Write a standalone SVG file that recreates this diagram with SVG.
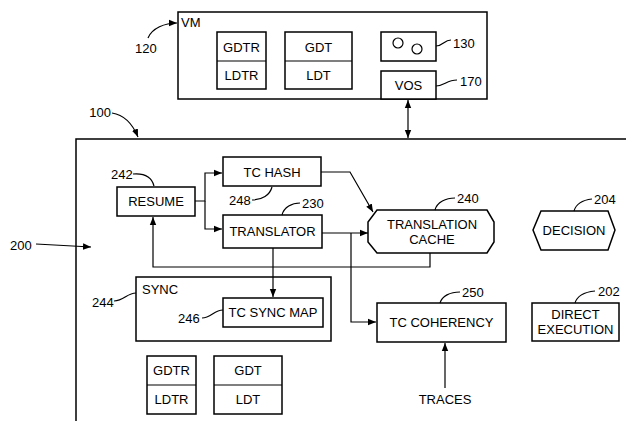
<svg xmlns="http://www.w3.org/2000/svg" width="626" height="421" viewBox="0 0 626 421">
<style>
.b{fill:#fff;stroke:#000;stroke-width:1.5}
.l{fill:none;stroke:#000;stroke-width:1.2}
.t{font-family:"Liberation Sans",Arial,sans-serif;font-size:13px;fill:#000;text-anchor:middle}
.n{font-family:"Liberation Sans",Arial,sans-serif;font-size:13px;fill:#000}
</style>
<defs>
<marker id="a" viewBox="0 0 10 10" refX="10" refY="5" markerWidth="8" markerHeight="8" markerUnits="userSpaceOnUse" orient="auto-start-reverse"><path d="M0,1 L10,5 L0,9 z" fill="#000"/></marker>
</defs>
<rect width="626" height="421" fill="#fff"/>
<g id="host100">
<path d="M76,421 V139 H626" fill="none" stroke="#000" stroke-width="1.5"/>
<text class="n" x="111" y="117" text-anchor="end">100</text>
<text class="n" x="10" y="250">200</text>
</g>
<g id="vm">
<rect class="b" x="178" y="12" width="309" height="87"/>
<text class="n" x="181" y="27">VM</text>
<text class="n" x="135" y="53">120</text>
</g>
<g id="vm-gdtr">
<rect class="b" x="217" y="32" width="49" height="57"/>
<line class="l" x1="217" y1="61" x2="266" y2="61"/>
<text class="t" x="241.5" y="52">GDTR</text>
<text class="t" x="241.5" y="80">LDTR</text>
</g>
<g id="vm-gdt">
<rect class="b" x="285" y="32" width="67" height="57"/>
<line class="l" x1="285" y1="61" x2="352" y2="61"/>
<text class="t" x="318.5" y="52">GDT</text>
<text class="t" x="318.5" y="80">LDT</text>
</g>
<g id="n130">
<rect class="b" x="381" y="32" width="55" height="29"/>
<circle cx="398" cy="43" r="5" fill="none" stroke="#000" stroke-width="1.2"/>
<circle cx="417" cy="49" r="5" fill="none" stroke="#000" stroke-width="1.2"/>
<path class="l" d="M436,46 C443,46 444,40 451,40"/>
<text class="n" x="453" y="48">130</text>
</g>
<g id="vos">
<rect class="b" x="381" y="71" width="55" height="28"/>
<text class="t" x="408.5" y="90">VOS</text>
<path class="l" d="M436,86 C444,86 447,80 457,80"/>
<text class="n" x="460" y="86">170</text>
</g>
<g id="resume">
<rect class="b" x="117" y="187" width="78" height="29"/>
<text class="t" x="156" y="206">RESUME</text>
<path class="l" d="M133,174 C145,173 152,178 154,186"/>
<text class="n" x="111" y="179">242</text>
</g>
<g id="tchash">
<rect class="b" x="223" y="157" width="98" height="29"/>
<text class="t" x="272" y="177">TC HASH</text>
<path class="l" d="M252,200 C262,200 270,195 272,187"/>
<text class="n" x="229" y="205">248</text>
</g>
<g id="translator">
<rect class="b" x="223" y="215" width="99" height="33"/>
<text class="t" x="272.5" y="236">TRANSLATOR</text>
<path class="l" d="M282,215 C284,207 292,203 300,203"/>
<text class="n" x="302" y="208">230</text>
</g>
<g id="cache">
<polygon class="b" points="377,210 487,210 494,222 494,242 487,253 377,253 368,242 368,222"/>
<text class="t" x="432" y="229">TRANSLATION</text>
<text class="t" x="432" y="244">CACHE</text>
<path class="l" d="M435,210 C437,202 446,198 455,198"/>
<text class="n" x="457" y="203">240</text>
</g>
<g id="decision">
<polygon class="b" points="541,211 608,211 615,230 608,250 541,250 533,230"/>
<text class="t" x="574" y="235">DECISION</text>
<path class="l" d="M574,211 C576,204 583,200 592,199"/>
<text class="n" x="594" y="204">204</text>
</g>
<g id="sync">
<rect class="b" x="136" y="277" width="195" height="64"/>
<text class="n" x="142" y="294">SYNC</text>
<path class="l" d="M114,301 C124,301 127,293 136,293"/>
<text class="n" x="92" y="307">244</text>
</g>
<g id="tcsyncmap">
<rect class="b" x="223" y="298" width="100" height="29"/>
<text class="t" x="273" y="317">TC SYNC MAP</text>
<path class="l" d="M202,318 C211,318 214,310 223,310"/>
<text class="n" x="178" y="323">246</text>
</g>
<g id="tccoherency">
<rect class="b" x="377" y="303" width="129" height="39"/>
<text class="t" x="441.5" y="327">TC COHERENCY</text>
<path class="l" d="M440,303 C442,296 450,292 460,292"/>
<text class="n" x="462" y="297">250</text>
</g>
<g id="direct">
<rect class="b" x="532" y="303" width="87" height="38"/>
<text class="t" x="575.5" y="319">DIRECT</text>
<text class="t" x="575.5" y="334">EXECUTION</text>
<path class="l" d="M575,303 C577,296 585,292 595,291"/>
<text class="n" x="598" y="296">202</text>
</g>
<g id="gdtr2">
<rect class="b" x="147" y="356" width="49" height="58"/>
<line class="l" x1="147" y1="385" x2="196" y2="385"/>
<text class="t" x="171.5" y="375">GDTR</text>
<text class="t" x="171.5" y="404">LDTR</text>
</g>
<g id="gdt2">
<rect class="b" x="214" y="356" width="68" height="58"/>
<line class="l" x1="214" y1="385" x2="282" y2="385"/>
<text class="t" x="248" y="375">GDT</text>
<text class="t" x="248" y="404">LDT</text>
</g>
<g id="traces">
<text class="t" x="445" y="404">TRACES</text>
</g>
<g id="connectors">
<path class="l" d="M408,100 V138" marker-start="url(#a)" marker-end="url(#a)"/>
<path class="l" d="M148,38 C152,28 165,23 177,23" marker-end="url(#a)"/>
<path class="l" d="M112,113 C125,115 133,125 138,137" marker-end="url(#a)"/>
<path class="l" d="M36,244 L91,247" marker-end="url(#a)"/>
<path class="l" d="M195,201 H205 V173 H222" marker-end="url(#a)"/>
<path class="l" d="M205,201 V229 H222" marker-end="url(#a)"/>
<path class="l" d="M321,172 H350 L373,212" marker-end="url(#a)"/>
<path class="l" d="M322,233 H368" marker-end="url(#a)"/>
<path class="l" d="M273,248 V297" marker-end="url(#a)"/>
<path class="l" d="M351,233 V322 H376" marker-end="url(#a)"/>
<path class="l" d="M430,253 V267 H153 V217" marker-end="url(#a)"/>
<path class="l" d="M445,388 V343" marker-end="url(#a)"/>
</g>
</svg>
